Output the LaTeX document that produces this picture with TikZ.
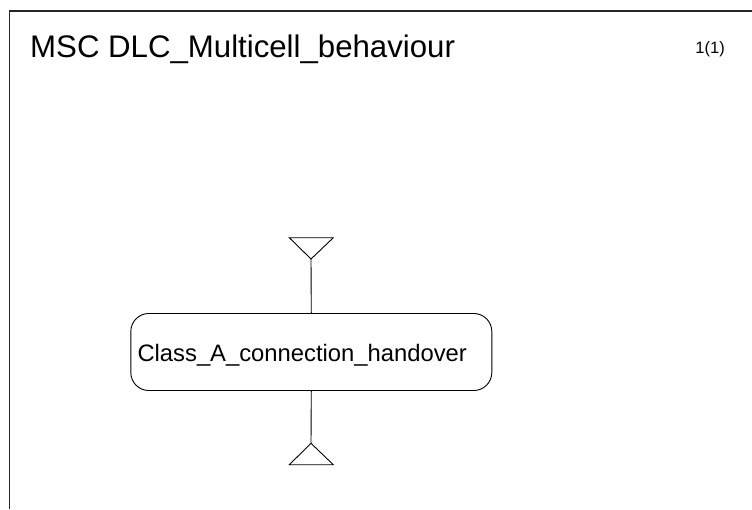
\documentclass[tikz,border=0pt]{standalone}
\usepackage{fontspec}
\setmainfont{Liberation Sans}
\begin{document}
\begin{tikzpicture}[x=1pt,y=-1pt,
  frameline/.style={line width=1.3pt,draw=black!85},
  refbox/.style={draw,line width=0.9pt,rounded corners=18pt,minimum width=361pt,minimum height=77pt,inner sep=0pt},
  condline/.style={line width=0.9pt},
  title/.style={font=\fontsize{31.2}{32}\selectfont,anchor=base west,inner sep=0pt},
  pagelabel/.style={font=\fontsize{16.5}{18}\selectfont,anchor=base east,inner sep=0pt},
  boxlabel/.style={font=\fontsize{23.8}{25}\selectfont}]
  \useasboundingbox (0,0) rectangle (752,509);
  % diagram frame, running off the page to the right and below
  \draw[frameline] (9.5,509) -- (9.5,11) -- (752,11);
  \node[title] (hdr) at (30,57.3) {MSC DLC\_Multicell\_behaviour};
  \node[pagelabel] (pg) at (725,53.3) {1(1)};
  % MSC reference
  \node[refbox] (ref) at (311.3,352) {};
  \node[boxlabel,anchor=base west,inner sep=0pt] (reftxt) at (137.3,361) {Class\_A\_connection\_handover};
  % start and end symbols
  \coordinate (topapex) at (311,259);
  \coordinate (botapex) at (311,443.3);
  \draw[condline] (289.3,237.7) -- (333.3,237.7) -- (topapex) -- cycle;
  \draw[condline] (botapex) -- (333.3,464.7) -- (289.3,464.7) -- cycle;
  \draw[condline] (topapex) -- (ref.north);
  \draw[condline] (ref.south) -- (botapex);
\end{tikzpicture}
\end{document}
